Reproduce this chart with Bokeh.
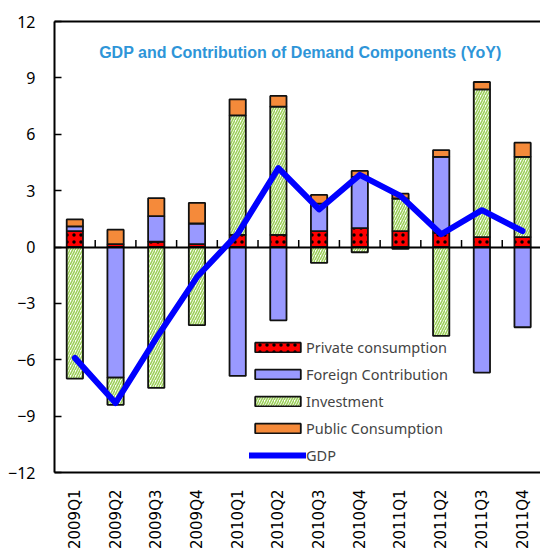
import numpy as np
from bokeh.plotting import figure
from bokeh.models import (ColumnDataSource, Range1d, FixedTicker, LinearAxis,
                          Legend, LegendItem, Label)
from bokeh.embed import file_html
from bokeh.resources import INLINE

# ---------------- data ----------------
quarters = ["2009Q1", "2009Q2", "2009Q3", "2009Q4",
            "2010Q1", "2010Q2", "2010Q3", "2010Q4",
            "2011Q1", "2011Q2", "2011Q3", "2011Q4"]
private_consumption = [0.85, 0.15, 0.28, 0.15, 0.64, 0.64, 0.85, 1.00, 0.85, 0.75, 0.53, 0.53]
foreign_contribution = [0.25, -6.95, 1.36, 1.10, -6.86, -3.90, 1.46, 2.73, -0.10, 4.05, -6.68, -4.27]
investment = [-7.00, -1.45, -7.50, -4.16, 6.36, 6.83, -0.85, -0.28, 1.73, -4.73, 7.86, 4.27]
public_consumption = [0.37, 0.77, 0.96, 1.10, 0.86, 0.57, 0.46, 0.32, 0.26, 0.36, 0.39, 0.75]
gdp = [-5.9, -8.3, -4.85, -1.6, 0.7, 4.2, 2.0, 3.84, 2.72, 0.68, 1.96, 0.85]
y_ticks = [-12, -9, -6, -3, 0, 3, 6, 9, 12]
title_text = "GDP and Contribution of Demand Components (YoY)"

n = len(quarters)
xc = np.arange(n) + 0.5


def stack(series_list):
    pos = np.zeros(n)
    neg = np.zeros(n)
    out = []
    for s in series_list:
        s = np.asarray(s, float)
        bottom = np.where(s >= 0, pos, neg + s)
        top = np.where(s >= 0, pos + s, neg)
        pos = np.where(s >= 0, pos + s, pos)
        neg = np.where(s < 0, neg + s, neg)
        out.append((bottom, top))
    return out


stacks = stack([private_consumption, foreign_contribution, investment, public_consumption])

p = figure(frame_width=486, frame_height=451,
           x_range=Range1d(0, 11.94), y_range=Range1d(-12, 12),
           output_backend="svg", toolbar_location=None,
           min_border_left=54, min_border_right=0, min_border_top=21, min_border_bottom=74,
           outline_line_color=None, background_fill_color="white",
           border_fill_color="white")
p.xgrid.visible = False
p.ygrid.visible = False

styles = [
    dict(fill_color="#FF0000", hatch_pattern="dot", hatch_color="black",
         hatch_scale=7, hatch_weight=1.5),
    dict(fill_color="#9999FF"),
    dict(fill_color="white", hatch_pattern="right_diagonal_line",
         hatch_color="#9CCF5A", hatch_scale=5, hatch_weight=1.6),
    dict(fill_color="#F58A3A"),
]
names = ["Private consumption", "Foreign Contribution", "Investment", "Public Consumption"]

bar_renderers = []
for (bottom, top), st in zip(stacks, styles):
    src = ColumnDataSource(dict(x=xc, bottom=bottom, top=top))
    r = p.vbar(x="x", bottom="bottom", top="top", width=0.4, source=src,
               line_color="#111111", line_width=1.8, **st)
    bar_renderers.append(r)

# zero line and category separator ticks
p.hspan(y=[0], line_color="black", line_width=2)
bounds = np.arange(1, n)
p.segment(x0=bounds, x1=bounds, y0=np.zeros(n - 1), y1=np.full(n - 1, 0.37),
          line_color="black", line_width=1.5)

gdp_r = p.line(xc, gdp, line_color="#0000FF", line_width=6,
               line_cap="round", line_join="round")

# axes
xa = p.xaxis[0]
xa.ticker = FixedTicker(ticks=list(xc))
xa.major_label_overrides = {float(v): q for v, q in zip(xc, quarters)}
xa.major_label_orientation = np.pi / 2
xa.major_tick_line_color = None
xa.minor_tick_line_color = None
xa.axis_line_width = 2
xa.axis_line_color = "black"
xa.major_label_standoff = 11
xa.major_label_text_font = "DejaVu Sans"
xa.major_label_text_font_size = "15px"
xa.major_label_text_color = "black"

ya = p.yaxis[0]
ya.ticker = FixedTicker(ticks=y_ticks)
ya.major_tick_in = 7
ya.major_tick_out = 0
ya.major_tick_line_width = 1.5
ya.minor_tick_line_color = None
ya.axis_line_width = 2
ya.axis_line_color = "black"
ya.major_label_standoff = 19
ya.major_label_text_font = "Noto Sans"
ya.major_label_text_font_size = "16px"
ya.major_label_text_color = "black"

top_axis = LinearAxis(ticker=FixedTicker(ticks=[]), axis_line_width=2,
                      axis_line_color="black", major_tick_line_color=None,
                      minor_tick_line_color=None, major_label_text_font_size="0px",
                      major_label_standoff=0, major_tick_out=0)
p.add_layout(top_axis, "above")

# title inside plot
p.add_layout(Label(x=6.04, y=10.35, text=title_text, text_align="center",
                   text_baseline="middle", text_font="Liberation Sans",
                   text_font_style="bold", text_font_size="16px",
                   text_color="#2E95D8"))

legend = Legend(items=[LegendItem(label=nm, renderers=[r]) for nm, r in zip(names, bar_renderers)]
                + [LegendItem(label="GDP", renderers=[gdp_r])],
                location=(195, 7), padding=0, margin=0, spacing=7,
                glyph_width=57, glyph_height=12, label_height=20, label_standoff=0,
                label_text_font="Noto Sans", label_text_font_size="14.5px",
                border_line_color=None, background_fill_alpha=0)
p.add_layout(legend)

open("out.html", "w").write(file_html(p, INLINE))
